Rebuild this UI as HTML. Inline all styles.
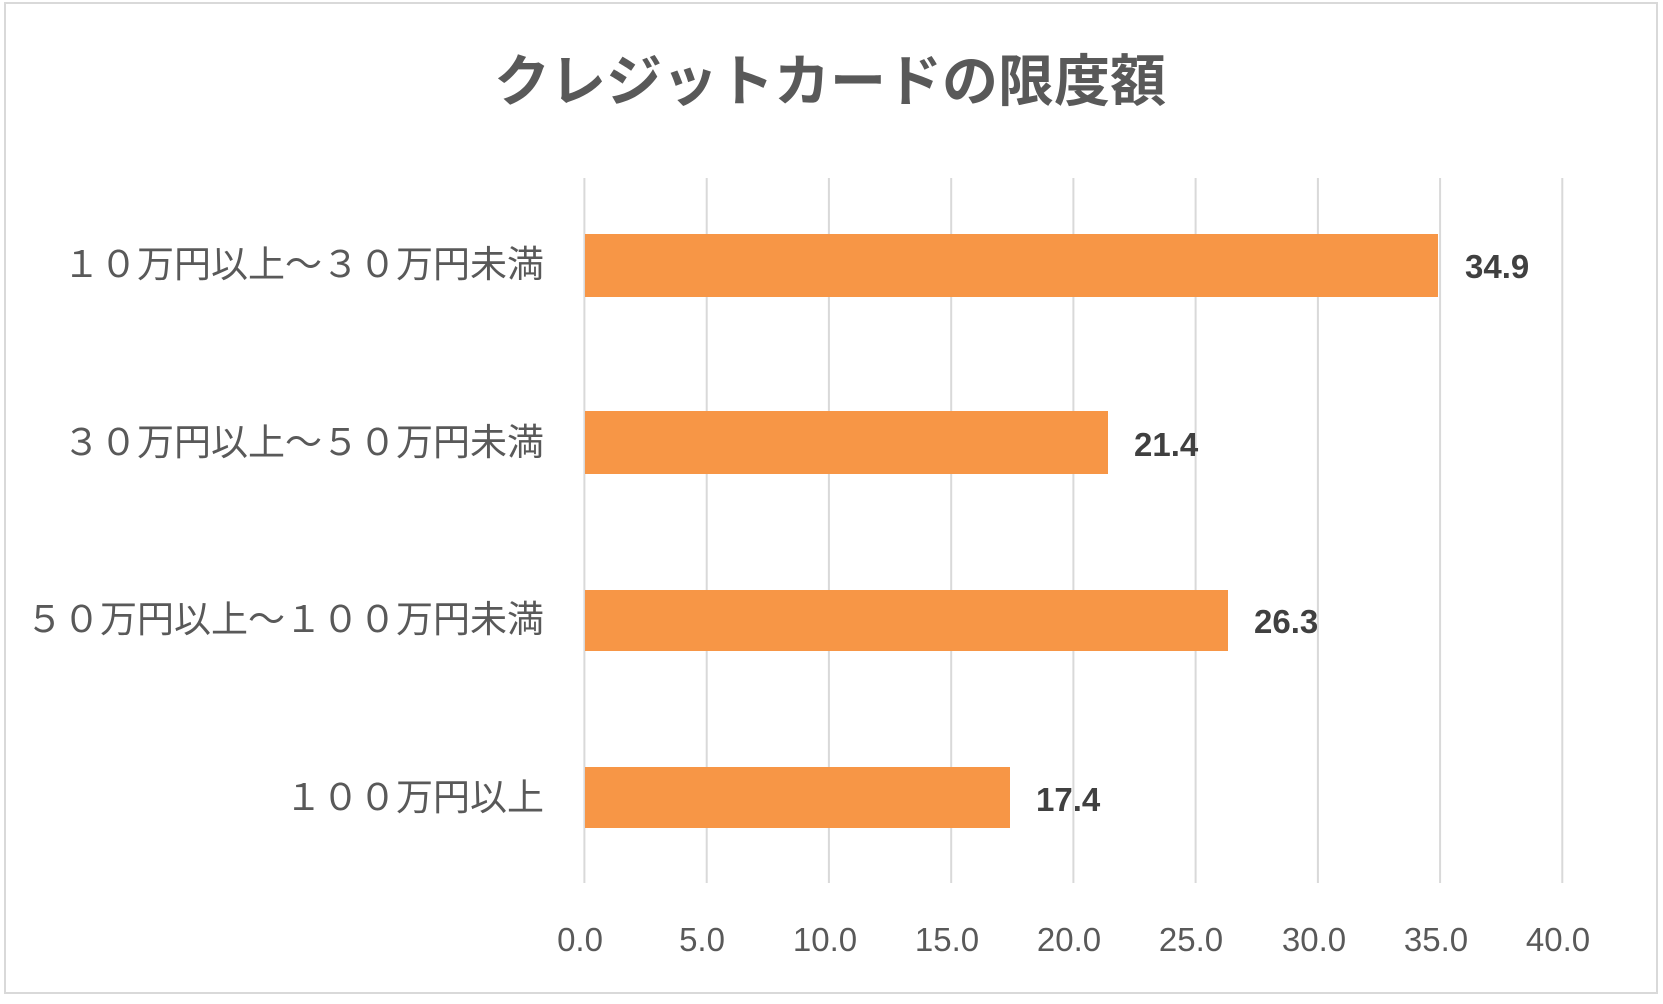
<!DOCTYPE html>
<html><head><meta charset="utf-8"><style>
body{margin:0;background:#fff;}
svg text{font-family:"Liberation Sans","Noto Sans CJK JP",sans-serif;}
svg text.j{font-family:"Noto Sans CJK JP",sans-serif;}
</style></head><body>
<svg width="1663" height="999" xmlns="http://www.w3.org/2000/svg">
<rect x="5" y="3" width="1652" height="990" fill="#fff" stroke="#d9d9d9" stroke-width="2"/>
<text class="j" x="830" y="101" text-anchor="middle" font-size="56" font-weight="bold" fill="#595959">クレジットカードの限度額</text>
<g stroke="#d9d9d9" stroke-width="2">
<line x1="584.4" y1="178" x2="584.4" y2="883"/>
<line x1="706.7" y1="178" x2="706.7" y2="883"/>
<line x1="828.9" y1="178" x2="828.9" y2="883"/>
<line x1="951.2" y1="178" x2="951.2" y2="883"/>
<line x1="1073.4" y1="178" x2="1073.4" y2="883"/>
<line x1="1195.6" y1="178" x2="1195.6" y2="883"/>
<line x1="1317.9" y1="178" x2="1317.9" y2="883"/>
<line x1="1440.1" y1="178" x2="1440.1" y2="883"/>
<line x1="1562.3" y1="178" x2="1562.3" y2="883"/>
</g>
<g fill="#f79646">
<rect x="585" y="234" width="853" height="63"/>
<rect x="585" y="411" width="523" height="63"/>
<rect x="585" y="590" width="643" height="61"/>
<rect x="585" y="767" width="425" height="61"/>
</g>
<g font-size="33" font-weight="bold" fill="#404040">
<text x="1465" y="278">34.9</text>
<text x="1134" y="456">21.4</text>
<text x="1254" y="633">26.3</text>
<text x="1036" y="811">17.4</text>
</g>
<g font-size="37" fill="#595959" text-anchor="end">
<text class="j" x="544" y="277">１０万円以上～３０万円未満</text>
<text class="j" x="544" y="455">３０万円以上～５０万円未満</text>
<text class="j" x="544" y="632">５０万円以上～１００万円未満</text>
<text class="j" x="544" y="810">１００万円以上</text>
</g>
<g font-size="33" fill="#595959" text-anchor="middle">
<text x="580" y="951">0.0</text>
<text x="702" y="951">5.0</text>
<text x="825" y="951">10.0</text>
<text x="947" y="951">15.0</text>
<text x="1069" y="951">20.0</text>
<text x="1191" y="951">25.0</text>
<text x="1314" y="951">30.0</text>
<text x="1436" y="951">35.0</text>
<text x="1558" y="951">40.0</text>
</g>
</svg>
</body></html>
